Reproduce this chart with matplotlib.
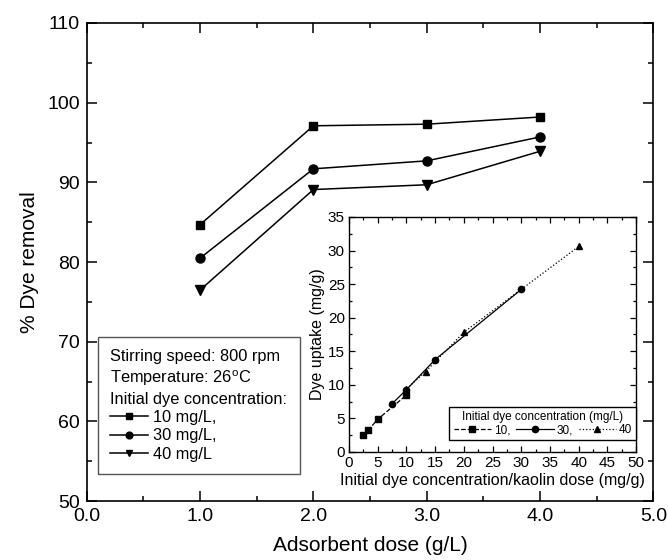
import matplotlib
matplotlib.use('Agg')
import matplotlib.pyplot as plt
from matplotlib.ticker import MultipleLocator, FormatStrFormatter

plt.rcParams['font.family'] = ['Liberation Sans', 'DejaVu Sans']
plt.rcParams['mathtext.fontset'] = 'custom'
plt.rcParams['mathtext.rm'] = 'Liberation Sans'

# % removal vs adsorbent dose
dose = [1.0, 2.0, 3.0, 4.0]
removal_10 = [84.7, 97.1, 97.3, 98.2]
removal_30 = [80.5, 91.7, 92.7, 95.7]
removal_40 = [76.5, 89.1, 89.7, 93.9]

# dye uptake vs initial concentration / dose (inset)
ratio_10 = [2.5, 3.33, 5.0, 10.0]
uptake_10 = [2.45, 3.24, 4.86, 8.47]
ratio_30 = [7.5, 10.0, 15.0, 30.0]
uptake_30 = [7.18, 9.27, 13.76, 24.2]
ratio_40 = [10.0, 13.33, 20.0, 40.0]
uptake_40 = [9.39, 11.96, 17.82, 30.6]

fig = plt.figure(figsize=(6.68, 5.6), dpi=100)
ax = fig.add_axes([0.130, 0.105, 0.848, 0.854])

ax.plot(dose, removal_10, 'k-s', lw=1.1, ms=6, label='10 mg/L,')
ax.plot(dose, removal_30, 'k-o', lw=1.1, ms=6.5, label='30 mg/L,')
ax.plot(dose, removal_40, 'k-v', lw=1.1, ms=6.5, label='40 mg/L')

ax.set_xlim(0, 5)
ax.set_ylim(50, 110)
ax.xaxis.set_major_locator(MultipleLocator(1.0))
ax.xaxis.set_minor_locator(MultipleLocator(0.5))
ax.yaxis.set_major_locator(MultipleLocator(10))
ax.yaxis.set_minor_locator(MultipleLocator(5))
ax.xaxis.set_major_formatter(FormatStrFormatter('%.1f'))
ax.tick_params(which='both', direction='in', top=True, right=True,
               labelsize=14, width=1.1, pad=5)
ax.tick_params(which='major', length=7)
ax.tick_params(which='minor', length=3.5)
for s in ax.spines.values():
    s.set_linewidth(1.2)
ax.set_xlabel('Adsorbent dose (g/L)', fontsize=15, labelpad=8)
ax.set_ylabel('% Dye removal', fontsize=15, labelpad=6)

leg = ax.legend(loc='upper left', bbox_to_anchor=(98 / 668, 1 - 337 / 560),
                bbox_transform=fig.transFigure, borderaxespad=0,
                title='Stirring speed: 800 rpm\nTemperature: 26$^{\\rm o}$C\nInitial dye concentration:',
                title_fontsize=11.8, fontsize=11.8, alignment='left',
                fancybox=False, edgecolor='#555555', framealpha=1,
                handlelength=2.3, handletextpad=0.3, labelspacing=0.2,
                borderpad=0.75, markerscale=0.75)
leg.get_title().set_linespacing(1.3)
leg.get_frame().set_linewidth(1.0)

# inset
ins = fig.add_axes([0.5225, 0.193, 0.4297, 0.4196])
ins.plot(ratio_10, uptake_10, 'k--s', lw=0.9, ms=4, label='10,')
ins.plot(ratio_30, uptake_30, 'k-o', lw=0.9, ms=4.5, label='30,')
ins.plot(ratio_40, uptake_40, 'k:^', lw=0.9, ms=4.5, label='40')
ins.set_xlim(0, 50)
ins.set_ylim(0, 35)
ins.xaxis.set_major_locator(MultipleLocator(5))
ins.xaxis.set_minor_locator(MultipleLocator(2.5))
ins.yaxis.set_major_locator(MultipleLocator(5))
ins.yaxis.set_minor_locator(MultipleLocator(2.5))
ins.tick_params(which='both', direction='in', top=True, right=True,
                labelsize=11, width=0.9, pad=3)
ins.tick_params(which='major', length=4)
ins.tick_params(which='minor', length=2.5)
for s in ins.spines.values():
    s.set_linewidth(1.0)
ins.set_xlabel('Initial dye concentration/kaolin dose (mg/g)', fontsize=11.5, labelpad=2)
ins.set_ylabel('Dye uptake (mg/g)', fontsize=11.5, labelpad=2)

ileg = ins.legend(loc='lower right', bbox_to_anchor=(1.0, 0.05), borderaxespad=0,
                  title='Initial dye concentration (mg/L)', title_fontsize=8.5,
                  fontsize=8.5, ncol=3, fancybox=False, edgecolor='k',
                  framealpha=1, handlelength=3.2, handletextpad=0.2,
                  columnspacing=0.5, borderpad=0.35, labelspacing=0.05)
ileg._legend_box.sep = 1
ileg.get_frame().set_linewidth(1.0)

fig.savefig('out.png', dpi=100)
